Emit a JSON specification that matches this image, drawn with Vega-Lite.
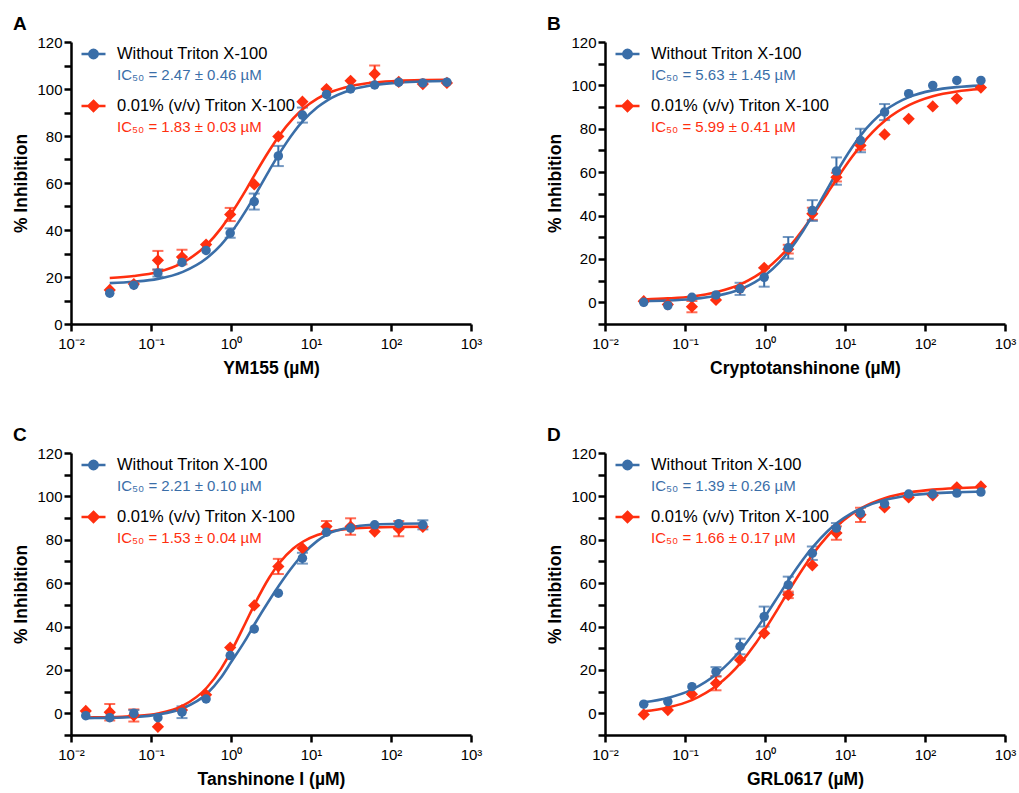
{
  "$schema": "https://vega.github.io/schema/vega-lite/v6.json",
  "background": "white",
  "padding": {"left": 12, "top": 15, "right": 2, "bottom": 2},
  "config": {
    "font": "Liberation Sans",
    "view": {"stroke": null},
    "axis": {"domainColor": "#000", "domainWidth": 2.5, "tickColor": "#000", "tickWidth": 2.5, "tickSize": 7, "labelColor": "#000", "labelFontSize": 15, "titleFontSize": 17.5, "titleFontWeight": "bold", "titleColor": "#000", "grid": false, "labelFlush": false, "labelOverlap": false},
    "axisX": {"labelPadding": 5, "titlePadding": 8},
    "axisY": {"labelPadding": 2, "titlePadding": 6},
    "title": {"fontSize": 19, "fontWeight": "bold", "anchor": "start", "frame": "bounds", "color": "#000", "offset": 1},
    "legend": {"orient": "top-left", "offset": 2, "padding": 0, "symbolSize": 576, "clipHeight": 20, "rowPadding": 4, "symbolOffset": 7, "labelOffset": 10, "labelFontSize": 16.5, "labelLimit": 500, "symbolStrokeWidth": 2.5, "labelColor": "#000"}
  },
  "columns": 2,
  "spacing": {"row": 49, "column": 64},
  "resolve": {"scale": {"color": "independent", "x": "independent", "y": "independent"}, "legend": {"color": "independent"}},
  "datasets": {
    "pts": [
      {"p": "A", "s": "0.01% (v/v) Triton X-100", "x": 0.0305, "y": 14.5, "e": 0},
      {"p": "A", "s": "0.01% (v/v) Triton X-100", "x": 0.061, "y": 17, "e": 0},
      {"p": "A", "s": "0.01% (v/v) Triton X-100", "x": 0.122, "y": 27.1, "e": 4},
      {"p": "A", "s": "0.01% (v/v) Triton X-100", "x": 0.244, "y": 28.5, "e": 3.1},
      {"p": "A", "s": "0.01% (v/v) Triton X-100", "x": 0.488, "y": 33.8, "e": 0},
      {"p": "A", "s": "0.01% (v/v) Triton X-100", "x": 0.977, "y": 46.6, "e": 2.8},
      {"p": "A", "s": "0.01% (v/v) Triton X-100", "x": 1.953, "y": 59.4, "e": 0},
      {"p": "A", "s": "0.01% (v/v) Triton X-100", "x": 3.906, "y": 79.8, "e": 0},
      {"p": "A", "s": "0.01% (v/v) Triton X-100", "x": 7.8125, "y": 94.6, "e": 0},
      {"p": "A", "s": "0.01% (v/v) Triton X-100", "x": 15.625, "y": 100, "e": 0},
      {"p": "A", "s": "0.01% (v/v) Triton X-100", "x": 31.25, "y": 103.5, "e": 0},
      {"p": "A", "s": "0.01% (v/v) Triton X-100", "x": 62.5, "y": 106.4, "e": 3.6},
      {"p": "A", "s": "0.01% (v/v) Triton X-100", "x": 125, "y": 103, "e": 0},
      {"p": "A", "s": "0.01% (v/v) Triton X-100", "x": 250, "y": 102.1, "e": 0},
      {"p": "A", "s": "0.01% (v/v) Triton X-100", "x": 500, "y": 102.6, "e": 0},
      {"p": "A", "s": "Without Triton X-100", "x": 0.0305, "y": 13.1, "e": 0},
      {"p": "A", "s": "Without Triton X-100", "x": 0.061, "y": 16.5, "e": 0},
      {"p": "A", "s": "Without Triton X-100", "x": 0.122, "y": 21.7, "e": 1.5},
      {"p": "A", "s": "Without Triton X-100", "x": 0.244, "y": 26.2, "e": 0},
      {"p": "A", "s": "Without Triton X-100", "x": 0.488, "y": 31.3, "e": 0},
      {"p": "A", "s": "Without Triton X-100", "x": 0.977, "y": 38.7, "e": 2},
      {"p": "A", "s": "Without Triton X-100", "x": 1.953, "y": 52.1, "e": 3.4},
      {"p": "A", "s": "Without Triton X-100", "x": 3.906, "y": 71.5, "e": 4.3},
      {"p": "A", "s": "Without Triton X-100", "x": 7.8125, "y": 88.9, "e": 3.2},
      {"p": "A", "s": "Without Triton X-100", "x": 15.625, "y": 97.7, "e": 0},
      {"p": "A", "s": "Without Triton X-100", "x": 31.25, "y": 100, "e": 0},
      {"p": "A", "s": "Without Triton X-100", "x": 62.5, "y": 101.7, "e": 0},
      {"p": "A", "s": "Without Triton X-100", "x": 125, "y": 102.9, "e": 0},
      {"p": "A", "s": "Without Triton X-100", "x": 250, "y": 102.6, "e": 0},
      {"p": "A", "s": "Without Triton X-100", "x": 500, "y": 102.9, "e": 0},

      {"p": "B", "s": "0.01% (v/v) Triton X-100", "x": 0.0305, "y": 0.5, "e": 0},
      {"p": "B", "s": "0.01% (v/v) Triton X-100", "x": 0.061, "y": -1, "e": 0},
      {"p": "B", "s": "0.01% (v/v) Triton X-100", "x": 0.122, "y": -2, "e": 2.6},
      {"p": "B", "s": "0.01% (v/v) Triton X-100", "x": 0.244, "y": 1.1, "e": 0},
      {"p": "B", "s": "0.01% (v/v) Triton X-100", "x": 0.488, "y": 6.5, "e": 0},
      {"p": "B", "s": "0.01% (v/v) Triton X-100", "x": 0.977, "y": 15.9, "e": 0},
      {"p": "B", "s": "0.01% (v/v) Triton X-100", "x": 1.953, "y": 24.5, "e": 2},
      {"p": "B", "s": "0.01% (v/v) Triton X-100", "x": 3.906, "y": 40.8, "e": 2.8},
      {"p": "B", "s": "0.01% (v/v) Triton X-100", "x": 7.8125, "y": 57.7, "e": 2},
      {"p": "B", "s": "0.01% (v/v) Triton X-100", "x": 15.625, "y": 72.3, "e": 2},
      {"p": "B", "s": "0.01% (v/v) Triton X-100", "x": 31.25, "y": 77.4, "e": 0},
      {"p": "B", "s": "0.01% (v/v) Triton X-100", "x": 62.5, "y": 84.6, "e": 0},
      {"p": "B", "s": "0.01% (v/v) Triton X-100", "x": 125, "y": 90.3, "e": 0},
      {"p": "B", "s": "0.01% (v/v) Triton X-100", "x": 250, "y": 93.9, "e": 0},
      {"p": "B", "s": "0.01% (v/v) Triton X-100", "x": 500, "y": 99, "e": 0},
      {"p": "B", "s": "Without Triton X-100", "x": 0.0305, "y": 0, "e": 0},
      {"p": "B", "s": "Without Triton X-100", "x": 0.061, "y": -1.5, "e": 0},
      {"p": "B", "s": "Without Triton X-100", "x": 0.122, "y": 2.3, "e": 0},
      {"p": "B", "s": "Without Triton X-100", "x": 0.244, "y": 3.4, "e": 0},
      {"p": "B", "s": "Without Triton X-100", "x": 0.488, "y": 6.2, "e": 2.8},
      {"p": "B", "s": "Without Triton X-100", "x": 0.977, "y": 11.5, "e": 4.3},
      {"p": "B", "s": "Without Triton X-100", "x": 1.953, "y": 25.1, "e": 5},
      {"p": "B", "s": "Without Triton X-100", "x": 3.906, "y": 42.3, "e": 4.8},
      {"p": "B", "s": "Without Triton X-100", "x": 7.8125, "y": 60.5, "e": 6.3},
      {"p": "B", "s": "Without Triton X-100", "x": 15.625, "y": 74.6, "e": 5.4},
      {"p": "B", "s": "Without Triton X-100", "x": 31.25, "y": 87.7, "e": 3.7},
      {"p": "B", "s": "Without Triton X-100", "x": 62.5, "y": 96.2, "e": 0},
      {"p": "B", "s": "Without Triton X-100", "x": 125, "y": 100, "e": 0},
      {"p": "B", "s": "Without Triton X-100", "x": 250, "y": 102.3, "e": 0},
      {"p": "B", "s": "Without Triton X-100", "x": 500, "y": 102.3, "e": 0},

      {"p": "C", "s": "0.01% (v/v) Triton X-100", "x": 0.0153, "y": 1.1, "e": 0},
      {"p": "C", "s": "0.01% (v/v) Triton X-100", "x": 0.0305, "y": 0.5, "e": 3.8},
      {"p": "C", "s": "0.01% (v/v) Triton X-100", "x": 0.061, "y": -1, "e": 2.8},
      {"p": "C", "s": "0.01% (v/v) Triton X-100", "x": 0.122, "y": -6.2, "e": 0},
      {"p": "C", "s": "0.01% (v/v) Triton X-100", "x": 0.244, "y": 1.5, "e": 0},
      {"p": "C", "s": "0.01% (v/v) Triton X-100", "x": 0.488, "y": 8.5, "e": 0},
      {"p": "C", "s": "0.01% (v/v) Triton X-100", "x": 0.977, "y": 30.3, "e": 0},
      {"p": "C", "s": "0.01% (v/v) Triton X-100", "x": 1.953, "y": 49.7, "e": 0},
      {"p": "C", "s": "0.01% (v/v) Triton X-100", "x": 3.906, "y": 67.7, "e": 3.5},
      {"p": "C", "s": "0.01% (v/v) Triton X-100", "x": 7.8125, "y": 76.1, "e": 0},
      {"p": "C", "s": "0.01% (v/v) Triton X-100", "x": 15.625, "y": 86.1, "e": 2.6},
      {"p": "C", "s": "0.01% (v/v) Triton X-100", "x": 31.25, "y": 86.1, "e": 3.8},
      {"p": "C", "s": "0.01% (v/v) Triton X-100", "x": 62.5, "y": 83.8, "e": 0},
      {"p": "C", "s": "0.01% (v/v) Triton X-100", "x": 125, "y": 85.1, "e": 3.5},
      {"p": "C", "s": "0.01% (v/v) Triton X-100", "x": 250, "y": 86, "e": 0},
      {"p": "C", "s": "Without Triton X-100", "x": 0.0153, "y": -1.1, "e": 0},
      {"p": "C", "s": "Without Triton X-100", "x": 0.0305, "y": -2, "e": 0},
      {"p": "C", "s": "Without Triton X-100", "x": 0.061, "y": 0, "e": 1.5},
      {"p": "C", "s": "Without Triton X-100", "x": 0.122, "y": -2, "e": 0},
      {"p": "C", "s": "Without Triton X-100", "x": 0.244, "y": 0.5, "e": 2.7},
      {"p": "C", "s": "Without Triton X-100", "x": 0.488, "y": 6.6, "e": 0},
      {"p": "C", "s": "Without Triton X-100", "x": 0.977, "y": 26.6, "e": 0},
      {"p": "C", "s": "Without Triton X-100", "x": 1.953, "y": 38.9, "e": 0},
      {"p": "C", "s": "Without Triton X-100", "x": 3.906, "y": 55.4, "e": 0},
      {"p": "C", "s": "Without Triton X-100", "x": 7.8125, "y": 71.5, "e": 2.5},
      {"p": "C", "s": "Without Triton X-100", "x": 15.625, "y": 83.5, "e": 0},
      {"p": "C", "s": "Without Triton X-100", "x": 31.25, "y": 85.4, "e": 0},
      {"p": "C", "s": "Without Triton X-100", "x": 62.5, "y": 86.9, "e": 0},
      {"p": "C", "s": "Without Triton X-100", "x": 125, "y": 87.4, "e": 0},
      {"p": "C", "s": "Without Triton X-100", "x": 250, "y": 86.9, "e": 2.1},

      {"p": "D", "s": "0.01% (v/v) Triton X-100", "x": 0.0305, "y": -0.5, "e": 0},
      {"p": "D", "s": "0.01% (v/v) Triton X-100", "x": 0.061, "y": 1.5, "e": 0},
      {"p": "D", "s": "0.01% (v/v) Triton X-100", "x": 0.122, "y": 8.8, "e": 0},
      {"p": "D", "s": "0.01% (v/v) Triton X-100", "x": 0.244, "y": 13.8, "e": 3.2},
      {"p": "D", "s": "0.01% (v/v) Triton X-100", "x": 0.488, "y": 24.6, "e": 0},
      {"p": "D", "s": "0.01% (v/v) Triton X-100", "x": 0.977, "y": 36.9, "e": 0},
      {"p": "D", "s": "0.01% (v/v) Triton X-100", "x": 1.953, "y": 54.6, "e": 1.5},
      {"p": "D", "s": "0.01% (v/v) Triton X-100", "x": 3.906, "y": 68.2, "e": 0},
      {"p": "D", "s": "0.01% (v/v) Triton X-100", "x": 7.8125, "y": 83.1, "e": 3.1},
      {"p": "D", "s": "0.01% (v/v) Triton X-100", "x": 15.625, "y": 91.5, "e": 3.3},
      {"p": "D", "s": "0.01% (v/v) Triton X-100", "x": 31.25, "y": 94.9, "e": 0},
      {"p": "D", "s": "0.01% (v/v) Triton X-100", "x": 62.5, "y": 99.5, "e": 0},
      {"p": "D", "s": "0.01% (v/v) Triton X-100", "x": 125, "y": 100.5, "e": 0},
      {"p": "D", "s": "0.01% (v/v) Triton X-100", "x": 250, "y": 104.2, "e": 0},
      {"p": "D", "s": "0.01% (v/v) Triton X-100", "x": 500, "y": 104.6, "e": 0},
      {"p": "D", "s": "Without Triton X-100", "x": 0.0305, "y": 4.2, "e": 0},
      {"p": "D", "s": "Without Triton X-100", "x": 0.061, "y": 5.4, "e": 0},
      {"p": "D", "s": "Without Triton X-100", "x": 0.122, "y": 12.3, "e": 0},
      {"p": "D", "s": "Without Triton X-100", "x": 0.244, "y": 19.2, "e": 2.1},
      {"p": "D", "s": "Without Triton X-100", "x": 0.488, "y": 30.8, "e": 3.6},
      {"p": "D", "s": "Without Triton X-100", "x": 0.977, "y": 44.6, "e": 4.6},
      {"p": "D", "s": "Without Triton X-100", "x": 1.953, "y": 59.2, "e": 3.8},
      {"p": "D", "s": "Without Triton X-100", "x": 3.906, "y": 73.8, "e": 3.1},
      {"p": "D", "s": "Without Triton X-100", "x": 7.8125, "y": 85.4, "e": 2.3},
      {"p": "D", "s": "Without Triton X-100", "x": 15.625, "y": 92.3, "e": 0},
      {"p": "D", "s": "Without Triton X-100", "x": 31.25, "y": 96.6, "e": 0},
      {"p": "D", "s": "Without Triton X-100", "x": 62.5, "y": 101.1, "e": 0},
      {"p": "D", "s": "Without Triton X-100", "x": 125, "y": 101.1, "e": 0},
      {"p": "D", "s": "Without Triton X-100", "x": 250, "y": 101.5, "e": 0},
      {"p": "D", "s": "Without Triton X-100", "x": 500, "y": 102, "e": 0}
    ],
    "fit": [
      {"p": "A", "s": "0.01% (v/v) Triton X-100", "x": 0.0305, "y": 19.6},
      {"p": "A", "s": "0.01% (v/v) Triton X-100", "x": 0.061, "y": 20.4},
      {"p": "A", "s": "0.01% (v/v) Triton X-100", "x": 0.122, "y": 22.1},
      {"p": "A", "s": "0.01% (v/v) Triton X-100", "x": 0.25, "y": 26.1},
      {"p": "A", "s": "0.01% (v/v) Triton X-100", "x": 0.5, "y": 33.8},
      {"p": "A", "s": "0.01% (v/v) Triton X-100", "x": 0.75, "y": 40.7},
      {"p": "A", "s": "0.01% (v/v) Triton X-100", "x": 1, "y": 46.8},
      {"p": "A", "s": "0.01% (v/v) Triton X-100", "x": 1.5, "y": 56.4},
      {"p": "A", "s": "0.01% (v/v) Triton X-100", "x": 2, "y": 63.8},
      {"p": "A", "s": "0.01% (v/v) Triton X-100", "x": 3, "y": 73.7},
      {"p": "A", "s": "0.01% (v/v) Triton X-100", "x": 4, "y": 80.1},
      {"p": "A", "s": "0.01% (v/v) Triton X-100", "x": 6, "y": 87.5},
      {"p": "A", "s": "0.01% (v/v) Triton X-100", "x": 8, "y": 91.6},
      {"p": "A", "s": "0.01% (v/v) Triton X-100", "x": 12, "y": 95.9},
      {"p": "A", "s": "0.01% (v/v) Triton X-100", "x": 16, "y": 98.1},
      {"p": "A", "s": "0.01% (v/v) Triton X-100", "x": 32, "y": 101.3},
      {"p": "A", "s": "0.01% (v/v) Triton X-100", "x": 64, "y": 102.8},
      {"p": "A", "s": "0.01% (v/v) Triton X-100", "x": 125, "y": 103.5},
      {"p": "A", "s": "0.01% (v/v) Triton X-100", "x": 250, "y": 103.8},
      {"p": "A", "s": "0.01% (v/v) Triton X-100", "x": 500, "y": 103.9},
      {"p": "A", "s": "Without Triton X-100", "x": 0.0305, "y": 17.4},
      {"p": "A", "s": "Without Triton X-100", "x": 0.061, "y": 18},
      {"p": "A", "s": "Without Triton X-100", "x": 0.122, "y": 19.2},
      {"p": "A", "s": "Without Triton X-100", "x": 0.25, "y": 22.2},
      {"p": "A", "s": "Without Triton X-100", "x": 0.5, "y": 28.1},
      {"p": "A", "s": "Without Triton X-100", "x": 0.75, "y": 33.7},
      {"p": "A", "s": "Without Triton X-100", "x": 1, "y": 38.8},
      {"p": "A", "s": "Without Triton X-100", "x": 1.5, "y": 47.7},
      {"p": "A", "s": "Without Triton X-100", "x": 2, "y": 54.8},
      {"p": "A", "s": "Without Triton X-100", "x": 3, "y": 65.3},
      {"p": "A", "s": "Without Triton X-100", "x": 4, "y": 72.4},
      {"p": "A", "s": "Without Triton X-100", "x": 6, "y": 81.3},
      {"p": "A", "s": "Without Triton X-100", "x": 8, "y": 86.5},
      {"p": "A", "s": "Without Triton X-100", "x": 12, "y": 92.2},
      {"p": "A", "s": "Without Triton X-100", "x": 16, "y": 95.2},
      {"p": "A", "s": "Without Triton X-100", "x": 32, "y": 99.7},
      {"p": "A", "s": "Without Triton X-100", "x": 64, "y": 101.8},
      {"p": "A", "s": "Without Triton X-100", "x": 125, "y": 102.7},
      {"p": "A", "s": "Without Triton X-100", "x": 250, "y": 103.2},
      {"p": "A", "s": "Without Triton X-100", "x": 500, "y": 103.4},

      {"p": "B", "s": "0.01% (v/v) Triton X-100", "x": 0.0305, "y": 1.3},
      {"p": "B", "s": "0.01% (v/v) Triton X-100", "x": 0.061, "y": 1.8},
      {"p": "B", "s": "0.01% (v/v) Triton X-100", "x": 0.122, "y": 2.7},
      {"p": "B", "s": "0.01% (v/v) Triton X-100", "x": 0.25, "y": 4.8},
      {"p": "B", "s": "0.01% (v/v) Triton X-100", "x": 0.5, "y": 8.4},
      {"p": "B", "s": "0.01% (v/v) Triton X-100", "x": 0.75, "y": 11.8},
      {"p": "B", "s": "0.01% (v/v) Triton X-100", "x": 1, "y": 14.9},
      {"p": "B", "s": "0.01% (v/v) Triton X-100", "x": 1.5, "y": 20.6},
      {"p": "B", "s": "0.01% (v/v) Triton X-100", "x": 2, "y": 25.5},
      {"p": "B", "s": "0.01% (v/v) Triton X-100", "x": 3, "y": 33.7},
      {"p": "B", "s": "0.01% (v/v) Triton X-100", "x": 4, "y": 40.3},
      {"p": "B", "s": "0.01% (v/v) Triton X-100", "x": 6, "y": 50.2},
      {"p": "B", "s": "0.01% (v/v) Triton X-100", "x": 8, "y": 57.2},
      {"p": "B", "s": "0.01% (v/v) Triton X-100", "x": 12, "y": 66.6},
      {"p": "B", "s": "0.01% (v/v) Triton X-100", "x": 16, "y": 72.6},
      {"p": "B", "s": "0.01% (v/v) Triton X-100", "x": 32, "y": 83.9},
      {"p": "B", "s": "0.01% (v/v) Triton X-100", "x": 64, "y": 91},
      {"p": "B", "s": "0.01% (v/v) Triton X-100", "x": 125, "y": 95},
      {"p": "B", "s": "0.01% (v/v) Triton X-100", "x": 250, "y": 97.2},
      {"p": "B", "s": "0.01% (v/v) Triton X-100", "x": 500, "y": 98.3},
      {"p": "B", "s": "Without Triton X-100", "x": 0.0305, "y": 0.5},
      {"p": "B", "s": "Without Triton X-100", "x": 0.061, "y": 0.8},
      {"p": "B", "s": "Without Triton X-100", "x": 0.122, "y": 1.5},
      {"p": "B", "s": "Without Triton X-100", "x": 0.25, "y": 3},
      {"p": "B", "s": "Without Triton X-100", "x": 0.5, "y": 6.1},
      {"p": "B", "s": "Without Triton X-100", "x": 0.75, "y": 9.3},
      {"p": "B", "s": "Without Triton X-100", "x": 1, "y": 12.4},
      {"p": "B", "s": "Without Triton X-100", "x": 1.5, "y": 18.3},
      {"p": "B", "s": "Without Triton X-100", "x": 2, "y": 23.7},
      {"p": "B", "s": "Without Triton X-100", "x": 3, "y": 33},
      {"p": "B", "s": "Without Triton X-100", "x": 4, "y": 40.7},
      {"p": "B", "s": "Without Triton X-100", "x": 6, "y": 52.2},
      {"p": "B", "s": "Without Triton X-100", "x": 8, "y": 60.4},
      {"p": "B", "s": "Without Triton X-100", "x": 12, "y": 70.9},
      {"p": "B", "s": "Without Triton X-100", "x": 16, "y": 77.3},
      {"p": "B", "s": "Without Triton X-100", "x": 32, "y": 88.5},
      {"p": "B", "s": "Without Triton X-100", "x": 64, "y": 94.7},
      {"p": "B", "s": "Without Triton X-100", "x": 125, "y": 97.7},
      {"p": "B", "s": "Without Triton X-100", "x": 250, "y": 99.2},
      {"p": "B", "s": "Without Triton X-100", "x": 500, "y": 99.9},

      {"p": "C", "s": "0.01% (v/v) Triton X-100", "x": 0.0153, "y": -1.9},
      {"p": "C", "s": "0.01% (v/v) Triton X-100", "x": 0.0305, "y": -1.8},
      {"p": "C", "s": "0.01% (v/v) Triton X-100", "x": 0.061, "y": -1.3},
      {"p": "C", "s": "0.01% (v/v) Triton X-100", "x": 0.122, "y": -0.1},
      {"p": "C", "s": "0.01% (v/v) Triton X-100", "x": 0.25, "y": 3.5},
      {"p": "C", "s": "0.01% (v/v) Triton X-100", "x": 0.5, "y": 11.9},
      {"p": "C", "s": "0.01% (v/v) Triton X-100", "x": 0.75, "y": 20.5},
      {"p": "C", "s": "0.01% (v/v) Triton X-100", "x": 1, "y": 28.4},
      {"p": "C", "s": "0.01% (v/v) Triton X-100", "x": 1.5, "y": 41.3},
      {"p": "C", "s": "0.01% (v/v) Triton X-100", "x": 2, "y": 50.7},
      {"p": "C", "s": "0.01% (v/v) Triton X-100", "x": 3, "y": 62.5},
      {"p": "C", "s": "0.01% (v/v) Triton X-100", "x": 4, "y": 69.2},
      {"p": "C", "s": "0.01% (v/v) Triton X-100", "x": 6, "y": 76},
      {"p": "C", "s": "0.01% (v/v) Triton X-100", "x": 8, "y": 79.2},
      {"p": "C", "s": "0.01% (v/v) Triton X-100", "x": 12, "y": 82.2},
      {"p": "C", "s": "0.01% (v/v) Triton X-100", "x": 16, "y": 83.5},
      {"p": "C", "s": "0.01% (v/v) Triton X-100", "x": 32, "y": 85.1},
      {"p": "C", "s": "0.01% (v/v) Triton X-100", "x": 64, "y": 85.7},
      {"p": "C", "s": "0.01% (v/v) Triton X-100", "x": 125, "y": 85.9},
      {"p": "C", "s": "0.01% (v/v) Triton X-100", "x": 250, "y": 86},
      {"p": "C", "s": "Without Triton X-100", "x": 0.0153, "y": -2.2},
      {"p": "C", "s": "Without Triton X-100", "x": 0.0305, "y": -2.1},
      {"p": "C", "s": "Without Triton X-100", "x": 0.061, "y": -1.7},
      {"p": "C", "s": "Without Triton X-100", "x": 0.122, "y": -0.6},
      {"p": "C", "s": "Without Triton X-100", "x": 0.25, "y": 2.3},
      {"p": "C", "s": "Without Triton X-100", "x": 0.5, "y": 9},
      {"p": "C", "s": "Without Triton X-100", "x": 0.75, "y": 16.5},
      {"p": "C", "s": "Without Triton X-100", "x": 1, "y": 23.5},
      {"p": "C", "s": "Without Triton X-100", "x": 1.5, "y": 33.5},
      {"p": "C", "s": "Without Triton X-100", "x": 2, "y": 41.5},
      {"p": "C", "s": "Without Triton X-100", "x": 3, "y": 52},
      {"p": "C", "s": "Without Triton X-100", "x": 4, "y": 59},
      {"p": "C", "s": "Without Triton X-100", "x": 6, "y": 68},
      {"p": "C", "s": "Without Triton X-100", "x": 8, "y": 73.5},
      {"p": "C", "s": "Without Triton X-100", "x": 12, "y": 79.5},
      {"p": "C", "s": "Without Triton X-100", "x": 16, "y": 82.5},
      {"p": "C", "s": "Without Triton X-100", "x": 32, "y": 85.8},
      {"p": "C", "s": "Without Triton X-100", "x": 64, "y": 87},
      {"p": "C", "s": "Without Triton X-100", "x": 125, "y": 87.4},
      {"p": "C", "s": "Without Triton X-100", "x": 250, "y": 87.5},

      {"p": "D", "s": "0.01% (v/v) Triton X-100", "x": 0.0305, "y": 0.9},
      {"p": "D", "s": "0.01% (v/v) Triton X-100", "x": 0.061, "y": 2.7},
      {"p": "D", "s": "0.01% (v/v) Triton X-100", "x": 0.122, "y": 6.1},
      {"p": "D", "s": "0.01% (v/v) Triton X-100", "x": 0.25, "y": 12.8},
      {"p": "D", "s": "0.01% (v/v) Triton X-100", "x": 0.5, "y": 23.4},
      {"p": "D", "s": "0.01% (v/v) Triton X-100", "x": 0.75, "y": 31.8},
      {"p": "D", "s": "0.01% (v/v) Triton X-100", "x": 1, "y": 38.7},
      {"p": "D", "s": "0.01% (v/v) Triton X-100", "x": 1.5, "y": 49.1},
      {"p": "D", "s": "0.01% (v/v) Triton X-100", "x": 2, "y": 56.7},
      {"p": "D", "s": "0.01% (v/v) Triton X-100", "x": 3, "y": 66.9},
      {"p": "D", "s": "0.01% (v/v) Triton X-100", "x": 4, "y": 73.6},
      {"p": "D", "s": "0.01% (v/v) Triton X-100", "x": 6, "y": 81.6},
      {"p": "D", "s": "0.01% (v/v) Triton X-100", "x": 8, "y": 86.4},
      {"p": "D", "s": "0.01% (v/v) Triton X-100", "x": 12, "y": 91.7},
      {"p": "D", "s": "0.01% (v/v) Triton X-100", "x": 16, "y": 94.6},
      {"p": "D", "s": "0.01% (v/v) Triton X-100", "x": 32, "y": 99.3},
      {"p": "D", "s": "0.01% (v/v) Triton X-100", "x": 64, "y": 101.8},
      {"p": "D", "s": "0.01% (v/v) Triton X-100", "x": 125, "y": 103.1},
      {"p": "D", "s": "0.01% (v/v) Triton X-100", "x": 250, "y": 103.8},
      {"p": "D", "s": "0.01% (v/v) Triton X-100", "x": 500, "y": 104.2},
      {"p": "D", "s": "Without Triton X-100", "x": 0.0305, "y": 5.1},
      {"p": "D", "s": "Without Triton X-100", "x": 0.061, "y": 7.1},
      {"p": "D", "s": "Without Triton X-100", "x": 0.122, "y": 10.9},
      {"p": "D", "s": "Without Triton X-100", "x": 0.25, "y": 18.2},
      {"p": "D", "s": "Without Triton X-100", "x": 0.5, "y": 29.3},
      {"p": "D", "s": "Without Triton X-100", "x": 0.75, "y": 37.9},
      {"p": "D", "s": "Without Triton X-100", "x": 1, "y": 44.6},
      {"p": "D", "s": "Without Triton X-100", "x": 1.5, "y": 54.6},
      {"p": "D", "s": "Without Triton X-100", "x": 2, "y": 61.7},
      {"p": "D", "s": "Without Triton X-100", "x": 3, "y": 71},
      {"p": "D", "s": "Without Triton X-100", "x": 4, "y": 76.8},
      {"p": "D", "s": "Without Triton X-100", "x": 6, "y": 83.8},
      {"p": "D", "s": "Without Triton X-100", "x": 8, "y": 87.8},
      {"p": "D", "s": "Without Triton X-100", "x": 12, "y": 92.2},
      {"p": "D", "s": "Without Triton X-100", "x": 16, "y": 94.5},
      {"p": "D", "s": "Without Triton X-100", "x": 32, "y": 98.4},
      {"p": "D", "s": "Without Triton X-100", "x": 64, "y": 100.4},
      {"p": "D", "s": "Without Triton X-100", "x": 125, "y": 101.4},
      {"p": "D", "s": "Without Triton X-100", "x": 250, "y": 101.9},
      {"p": "D", "s": "Without Triton X-100", "x": 500, "y": 102.2}
    ]
  },
  "concat": [
    {
      "title": {"text": "A"},
      "width": 400, "height": 282,
      "encoding": {
        "x": {"field": "x", "type": "quantitative", "scale": {"type": "log", "domain": [0.01, 1000]}, "axis": {"title": "YM155 (µM)", "values": [0.01, 0.1, 1, 10, 100, 1000], "labelExpr": "'10' + ['⁻²','⁻¹','⁰','¹','²','³'][round(log(datum.value)/LN10)+2]"}},
        "y": {"field": "y", "type": "quantitative", "scale": {"domain": [0, 120], "nice": false}, "axis": {"title": "% Inhibition", "values": [0, 10, 20, 30, 40, 50, 60, 70, 80, 90, 100, 110, 120], "labelExpr": "datum.value % 20 == 0 ? datum.label : ''"}},
        "color": {"field": "s", "type": "nominal",
          "scale": {"domain": ["Without Triton X-100", "IC₅₀ = 2.47 ± 0.46 µM", "0.01% (v/v) Triton X-100", "IC₅₀ = 1.83 ± 0.03 µM"], "range": ["#3a6ea8", "#3a6ea8", "#ff2f0f", "#ff2f0f"]},
          "legend": {"title": null, "encode": {
            "symbols": {"update": {"shape": {"signal": "datum.index == 0 ? 'M-1,0H1M0.35,0A0.35,0.35,0,1,1,-0.35,0A0.35,0.35,0,1,1,0.35,0Z' : datum.index == 2 ? 'M-1,0H1M0,-0.42L0.42,0L0,0.42L-0.42,0Z' : 'M0,0'"}, "fill": {"signal": "datum.index < 2 ? '#3a6ea8' : '#ff2f0f'"}, "stroke": {"signal": "datum.index < 2 ? '#3a6ea8' : '#ff2f0f'"}, "strokeWidth": {"value": 2.5}, "opacity": {"value": 1}}},
            "labels": {"update": {"fill": {"signal": "datum.index == 1 ? '#3a6ea8' : datum.index == 3 ? '#ff2f0f' : '#000000'"}, "fontSize": {"signal": "datum.index % 2 == 1 ? 15 : 16.5"}, "dy": {"signal": "datum.index % 2 == 1 ? -7 : 0"}}}
          }}
        }
      },
      "layer": [
        {"data": {"name": "pts"}, "transform": [{"filter": "datum.p == 'A' && datum.e > 0"}], "mark": {"type": "errorbar", "ticks": {"size": 11}, "thickness": 2}, "encoding": {"yError": {"field": "e"}}},
        {"data": {"name": "fit"}, "transform": [{"filter": "datum.p == 'A'"}], "mark": {"type": "line", "strokeWidth": 2.6, "interpolate": "monotone"}},
        {"data": {"name": "pts"}, "transform": [{"filter": "datum.p == 'A' && datum.s == '0.01% (v/v) Triton X-100'"}], "mark": {"type": "point", "shape": "diamond", "filled": true, "size": 150, "opacity": 1}},
        {"data": {"name": "pts"}, "transform": [{"filter": "datum.p == 'A' && datum.s == 'Without Triton X-100'"}], "mark": {"type": "point", "shape": "circle", "filled": true, "size": 90, "opacity": 1}}
      ]
    },
    {
      "title": {"text": "B"},
      "width": 400, "height": 282,
      "encoding": {
        "x": {"field": "x", "type": "quantitative", "scale": {"type": "log", "domain": [0.01, 1000]}, "axis": {"title": "Cryptotanshinone (µM)", "values": [0.01, 0.1, 1, 10, 100, 1000], "labelExpr": "'10' + ['⁻²','⁻¹','⁰','¹','²','³'][round(log(datum.value)/LN10)+2]"}},
        "y": {"field": "y", "type": "quantitative", "scale": {"domain": [-10, 120], "nice": false}, "axis": {"title": "% Inhibition", "values": [-10, 0, 10, 20, 30, 40, 50, 60, 70, 80, 90, 100, 110, 120], "labelExpr": "datum.value % 20 == 0 ? datum.label : ''"}},
        "color": {"field": "s", "type": "nominal",
          "scale": {"domain": ["Without Triton X-100", "IC₅₀ = 5.63 ± 1.45 µM", "0.01% (v/v) Triton X-100", "IC₅₀ = 5.99 ± 0.41 µM"], "range": ["#3a6ea8", "#3a6ea8", "#ff2f0f", "#ff2f0f"]},
          "legend": {"title": null, "encode": {
            "symbols": {"update": {"shape": {"signal": "datum.index == 0 ? 'M-1,0H1M0.35,0A0.35,0.35,0,1,1,-0.35,0A0.35,0.35,0,1,1,0.35,0Z' : datum.index == 2 ? 'M-1,0H1M0,-0.42L0.42,0L0,0.42L-0.42,0Z' : 'M0,0'"}, "fill": {"signal": "datum.index < 2 ? '#3a6ea8' : '#ff2f0f'"}, "stroke": {"signal": "datum.index < 2 ? '#3a6ea8' : '#ff2f0f'"}, "strokeWidth": {"value": 2.5}, "opacity": {"value": 1}}},
            "labels": {"update": {"fill": {"signal": "datum.index == 1 ? '#3a6ea8' : datum.index == 3 ? '#ff2f0f' : '#000000'"}, "fontSize": {"signal": "datum.index % 2 == 1 ? 15 : 16.5"}, "dy": {"signal": "datum.index % 2 == 1 ? -7 : 0"}}}
          }}
        }
      },
      "layer": [
        {"data": {"name": "pts"}, "transform": [{"filter": "datum.p == 'B' && datum.e > 0"}], "mark": {"type": "errorbar", "ticks": {"size": 11}, "thickness": 2}, "encoding": {"yError": {"field": "e"}}},
        {"data": {"name": "fit"}, "transform": [{"filter": "datum.p == 'B'"}], "mark": {"type": "line", "strokeWidth": 2.6, "interpolate": "monotone"}},
        {"data": {"name": "pts"}, "transform": [{"filter": "datum.p == 'B' && datum.s == '0.01% (v/v) Triton X-100'"}], "mark": {"type": "point", "shape": "diamond", "filled": true, "size": 150, "opacity": 1}},
        {"data": {"name": "pts"}, "transform": [{"filter": "datum.p == 'B' && datum.s == 'Without Triton X-100'"}], "mark": {"type": "point", "shape": "circle", "filled": true, "size": 90, "opacity": 1}}
      ]
    },
    {
      "title": {"text": "C"},
      "width": 400, "height": 282,
      "encoding": {
        "x": {"field": "x", "type": "quantitative", "scale": {"type": "log", "domain": [0.01, 1000]}, "axis": {"title": "Tanshinone I (µM)", "values": [0.01, 0.1, 1, 10, 100, 1000], "labelExpr": "'10' + ['⁻²','⁻¹','⁰','¹','²','³'][round(log(datum.value)/LN10)+2]"}},
        "y": {"field": "y", "type": "quantitative", "scale": {"domain": [-10, 120], "nice": false}, "axis": {"title": "% Inhibition", "values": [-10, 0, 10, 20, 30, 40, 50, 60, 70, 80, 90, 100, 110, 120], "labelExpr": "datum.value % 20 == 0 ? datum.label : ''"}},
        "color": {"field": "s", "type": "nominal",
          "scale": {"domain": ["Without Triton X-100", "IC₅₀ = 2.21 ± 0.10 µM", "0.01% (v/v) Triton X-100", "IC₅₀ = 1.53 ± 0.04 µM"], "range": ["#3a6ea8", "#3a6ea8", "#ff2f0f", "#ff2f0f"]},
          "legend": {"title": null, "encode": {
            "symbols": {"update": {"shape": {"signal": "datum.index == 0 ? 'M-1,0H1M0.35,0A0.35,0.35,0,1,1,-0.35,0A0.35,0.35,0,1,1,0.35,0Z' : datum.index == 2 ? 'M-1,0H1M0,-0.42L0.42,0L0,0.42L-0.42,0Z' : 'M0,0'"}, "fill": {"signal": "datum.index < 2 ? '#3a6ea8' : '#ff2f0f'"}, "stroke": {"signal": "datum.index < 2 ? '#3a6ea8' : '#ff2f0f'"}, "strokeWidth": {"value": 2.5}, "opacity": {"value": 1}}},
            "labels": {"update": {"fill": {"signal": "datum.index == 1 ? '#3a6ea8' : datum.index == 3 ? '#ff2f0f' : '#000000'"}, "fontSize": {"signal": "datum.index % 2 == 1 ? 15 : 16.5"}, "dy": {"signal": "datum.index % 2 == 1 ? -7 : 0"}}}
          }}
        }
      },
      "layer": [
        {"data": {"name": "pts"}, "transform": [{"filter": "datum.p == 'C' && datum.e > 0"}], "mark": {"type": "errorbar", "ticks": {"size": 11}, "thickness": 2}, "encoding": {"yError": {"field": "e"}}},
        {"data": {"name": "fit"}, "transform": [{"filter": "datum.p == 'C'"}], "mark": {"type": "line", "strokeWidth": 2.6, "interpolate": "monotone"}},
        {"data": {"name": "pts"}, "transform": [{"filter": "datum.p == 'C' && datum.s == '0.01% (v/v) Triton X-100'"}], "mark": {"type": "point", "shape": "diamond", "filled": true, "size": 150, "opacity": 1}},
        {"data": {"name": "pts"}, "transform": [{"filter": "datum.p == 'C' && datum.s == 'Without Triton X-100'"}], "mark": {"type": "point", "shape": "circle", "filled": true, "size": 90, "opacity": 1}}
      ]
    },
    {
      "title": {"text": "D"},
      "width": 400, "height": 282,
      "encoding": {
        "x": {"field": "x", "type": "quantitative", "scale": {"type": "log", "domain": [0.01, 1000]}, "axis": {"title": "GRL0617 (µM)", "values": [0.01, 0.1, 1, 10, 100, 1000], "labelExpr": "'10' + ['⁻²','⁻¹','⁰','¹','²','³'][round(log(datum.value)/LN10)+2]"}},
        "y": {"field": "y", "type": "quantitative", "scale": {"domain": [-10, 120], "nice": false}, "axis": {"title": "% Inhibition", "values": [-10, 0, 10, 20, 30, 40, 50, 60, 70, 80, 90, 100, 110, 120], "labelExpr": "datum.value % 20 == 0 ? datum.label : ''"}},
        "color": {"field": "s", "type": "nominal",
          "scale": {"domain": ["Without Triton X-100", "IC₅₀ = 1.39 ± 0.26 µM", "0.01% (v/v) Triton X-100", "IC₅₀ = 1.66 ± 0.17 µM"], "range": ["#3a6ea8", "#3a6ea8", "#ff2f0f", "#ff2f0f"]},
          "legend": {"title": null, "encode": {
            "symbols": {"update": {"shape": {"signal": "datum.index == 0 ? 'M-1,0H1M0.35,0A0.35,0.35,0,1,1,-0.35,0A0.35,0.35,0,1,1,0.35,0Z' : datum.index == 2 ? 'M-1,0H1M0,-0.42L0.42,0L0,0.42L-0.42,0Z' : 'M0,0'"}, "fill": {"signal": "datum.index < 2 ? '#3a6ea8' : '#ff2f0f'"}, "stroke": {"signal": "datum.index < 2 ? '#3a6ea8' : '#ff2f0f'"}, "strokeWidth": {"value": 2.5}, "opacity": {"value": 1}}},
            "labels": {"update": {"fill": {"signal": "datum.index == 1 ? '#3a6ea8' : datum.index == 3 ? '#ff2f0f' : '#000000'"}, "fontSize": {"signal": "datum.index % 2 == 1 ? 15 : 16.5"}, "dy": {"signal": "datum.index % 2 == 1 ? -7 : 0"}}}
          }}
        }
      },
      "layer": [
        {"data": {"name": "pts"}, "transform": [{"filter": "datum.p == 'D' && datum.e > 0"}], "mark": {"type": "errorbar", "ticks": {"size": 11}, "thickness": 2}, "encoding": {"yError": {"field": "e"}}},
        {"data": {"name": "fit"}, "transform": [{"filter": "datum.p == 'D'"}], "mark": {"type": "line", "strokeWidth": 2.6, "interpolate": "monotone"}},
        {"data": {"name": "pts"}, "transform": [{"filter": "datum.p == 'D' && datum.s == '0.01% (v/v) Triton X-100'"}], "mark": {"type": "point", "shape": "diamond", "filled": true, "size": 150, "opacity": 1}},
        {"data": {"name": "pts"}, "transform": [{"filter": "datum.p == 'D' && datum.s == 'Without Triton X-100'"}], "mark": {"type": "point", "shape": "circle", "filled": true, "size": 90, "opacity": 1}}
      ]
    }
  ]
}
